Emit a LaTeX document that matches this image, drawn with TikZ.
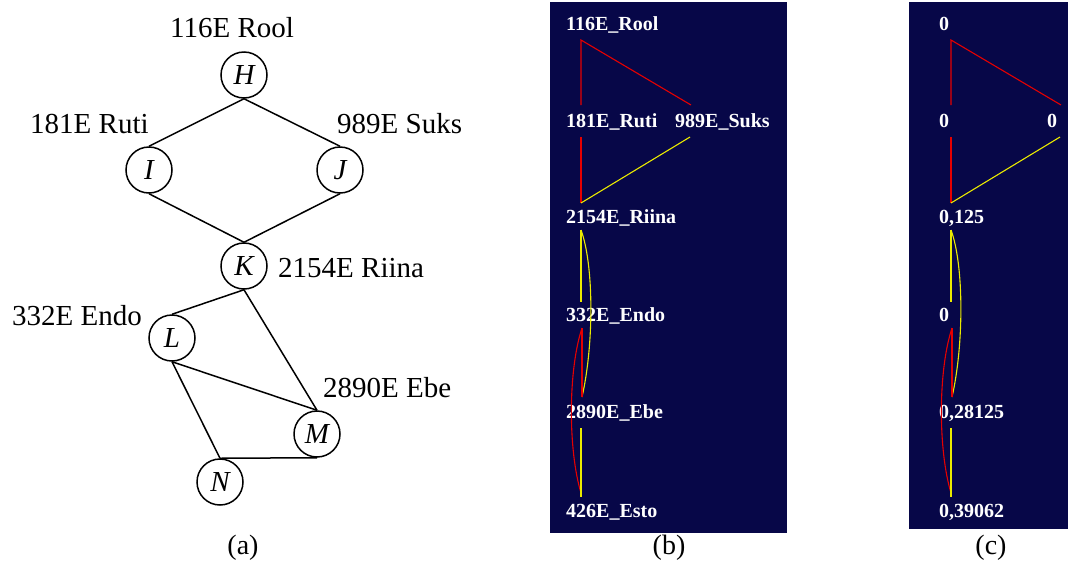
\documentclass[tikz,border=0pt]{standalone}
\usepackage{fontspec}
\setmainfont{Liberation Serif}
\definecolor{navy}{RGB}{7,7,72}
\definecolor{lred}{RGB}{230,0,0}
\definecolor{lyellow}{RGB}{235,235,0}
\begin{document}
\begin{tikzpicture}[x=1pt,y=-1pt,
  vert/.style={draw,circle,minimum size=46pt,inner sep=0pt,line width=1.5pt,font=\fontsize{29}{31}\selectfont\itshape},
  lab/.style={font=\fontsize{29}{31}\selectfont,inner sep=0pt,anchor=base west},
  captxt/.style={font=\fontsize{28}{30}\selectfont,inner sep=0pt,anchor=base},
  edge/.style={line width=1.5pt},
  scr/.style={font=\fontsize{20}{22}\selectfont\bfseries,text=white,inner sep=0pt,anchor=base west},
  rl/.style={draw=lred,line width=1.1pt},
  yl/.style={draw=lyellow,line width=1.1pt},
  panel/.style={fill=navy,draw=none}]
\useasboundingbox (0,0) rectangle (1070,563);

% ---------- panel (a) ----------
\node[vert] (H) at (244,75) {H};
\node[vert] (I) at (149,170) {I};
\node[vert] (J) at (340,170) {J};
\node[vert] (K) at (244,266) {K};
\node[vert] (L) at (172,338) {L};
\node[vert] (M) at (317,434) {M};
\node[vert] (N) at (220,482) {N};

\node[lab] (lH) at (170,37) {116E Rool};
\node[lab] (lI) at (30,133) {181E Ruti};
\node[lab] (lJ) at (337,133) {989E Suks};
\node[lab] (lK) at (278,277) {2154E Riina};
\node[lab] (lL) at (12,325) {332E Endo};
\node[lab] (lM) at (323,397) {2890E Ebe};

\draw[edge] (H.south) -- (I.north);
\draw[edge] (H.south) -- (J.north);
\draw[edge] (I.south) -- (K.north);
\draw[edge] (J.south) -- (K.north);
\draw[edge] (K.south) -- (L.north);
\draw[edge] (K.south) -- (M.north);
\draw[edge] (L.south) -- (M.north);
\draw[edge] (L.south) -- (N.north);
\draw[edge] (N.north) -- (M.south);

\node[captxt] (ca) at (243,554) {(a)};
\node[captxt] (cb) at (669,554) {(b)};
\node[captxt] (cc) at (991,554) {(c)};

% ---------- panels (b) and (c) ----------
\fill[panel] (550,2) rectangle (787,533);
\fill[panel] (909,2) rectangle (1068,529);

\node[scr] (b1) at (566,30) {116E\_Rool};
\node[scr] (b2) at (566,127) {181E\_Ruti};
\node[scr] (b3) at (675,127) {989E\_Suks};
\node[scr] (b4) at (566,223) {2154E\_Riina};
\node[scr] (b5) at (566,321) {332E\_Endo};
\node[scr] (b6) at (566,418) {2890E\_Ebe};
\node[scr] (b7) at (566,517) {426E\_Esto};

\node[scr] (c1) at (939,30) {0};
\node[scr] (c2) at (939,127) {0};
\node[scr] (c3) at (1047,127) {0};
\node[scr] (c4) at (939,223) {0,125};
\node[scr] (c5) at (939,321) {0};
\node[scr] (c6) at (939,418) {0,28125};
\node[scr] (c7) at (939,517) {0,39062};

\foreach \p/\dx in {b/0,c/370}{
  \begin{scope}[xshift=\dx pt]
    \coordinate (\p-t)   at (581,40);
    \coordinate (\p-ia)  at (581,105);
    \coordinate (\p-ja)  at (691,105);
    \coordinate (\p-ib)  at (581,137);
    \coordinate (\p-jb)  at (690,137);
    \coordinate (\p-ka)  at (581,203);
    \coordinate (\p-kb)  at (581,230);
    \coordinate (\p-la)  at (581,302);
    \coordinate (\p-lb)  at (582,328);
    \coordinate (\p-ma)  at (582,397);
    \coordinate (\p-mb)  at (581,428);
    \coordinate (\p-na)  at (581,493);
    \coordinate (\p-nb)  at (581,497);
    \coordinate (\p-y1)  at (594,265);
    \coordinate (\p-y2)  at (594,345);
    \coordinate (\p-r1)  at (568,370);
    \coordinate (\p-r2)  at (568,450);
  \end{scope}
  \draw[rl] (\p-ia) -- (\p-t) -- (\p-ja);
  \draw[rl] (\p-ib) -- (\p-ka);
  \draw[yl] (\p-ka) -- (\p-jb);
  \draw[yl] (\p-kb) -- (\p-la);
  \draw[yl] (\p-kb) .. controls (\p-y1) and (\p-y2) .. (\p-ma);
  \draw[rl] (\p-lb) -- (\p-ma);
  \draw[rl] (\p-lb) .. controls (\p-r1) and (\p-r2) .. (\p-na);
  \draw[yl] (\p-mb) -- (\p-nb);
}
\end{tikzpicture}
\end{document}
